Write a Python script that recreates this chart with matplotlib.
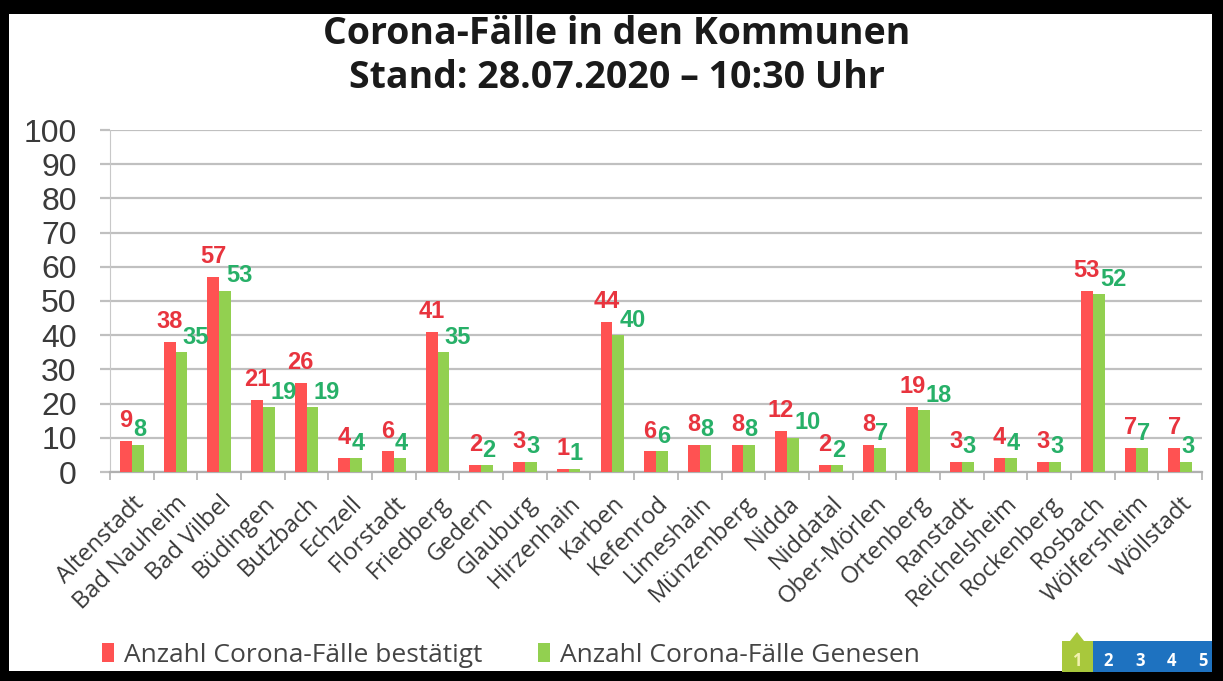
import matplotlib.pyplot as plt
import matplotlib.patches as mpatches
import numpy as np

kommunen = ["Altenstadt", "Bad Nauheim", "Bad Vilbel", "Büdingen", "Butzbach", "Echzell",
            "Florstadt", "Friedberg", "Gedern", "Glauburg", "Hirzenhain", "Karben",
            "Kefenrod", "Limeshain", "Münzenberg", "Nidda", "Niddatal", "Ober-Mörlen",
            "Ortenberg", "Ranstadt", "Reichelsheim", "Rockenberg", "Rosbach",
            "Wölfersheim", "Wöllstadt"]
bestaetigt = [9, 38, 57, 21, 26, 4, 6, 41, 2, 3, 1, 44, 6, 8, 8, 12, 2, 8, 19, 3, 4, 3, 53, 7, 7]
genesen = [8, 35, 53, 19, 19, 4, 4, 35, 2, 3, 1, 40, 6, 8, 8, 10, 2, 7, 18, 3, 4, 3, 52, 7, 3]
pages = ["1", "2", "3", "4", "5"]

W, H = 1223, 681
fig = plt.figure(figsize=(W / 100, H / 100), dpi=100)

# black frame
fig.patches.append(mpatches.Rectangle((0, 0), 1, 1, transform=fig.transFigure,
                                      facecolor="black", edgecolor="none", zorder=-10))
fig.patches.append(mpatches.Rectangle((9 / W, 1 - 671 / H), (1212 - 9) / W, (671 - 14) / H,
                                      transform=fig.transFigure, facecolor="white",
                                      edgecolor="none", zorder=-9))

ax = fig.add_axes([110 / W, 1 - 472 / H, (1202 - 110) / W, (472 - 130) / H])
x = np.arange(len(kommunen))
w = 0.27
red = "#ff5252"
green = "#92d050"
ax.bar(x - w / 2, bestaetigt, w, color=red, label="Anzahl Corona-Fälle bestätigt", zorder=3)
ax.bar(x + w / 2, genesen, w, color=green, label="Anzahl Corona-Fälle Genesen", zorder=3)

ax.set_xlim(-0.5, len(kommunen) - 0.5)
ax.set_ylim(0, 100)
ax.set_yticks(range(0, 101, 10))
ax.yaxis.grid(True, color="#c0c0c0", linewidth=1.6, zorder=0)
ax.tick_params(axis="y", length=7, width=1.6, color="#c0c0c0", labelsize=23,
               labelcolor="#3a3a3a", pad=17)
for lab in ax.get_yticklabels():
    lab.set_family("Liberation Sans")

ax.set_xticks(x)
ax.set_xticklabels(kommunen, rotation=45, ha="right", rotation_mode="anchor",
                   fontsize=17, color="#3a3a3a", family="Open Sans")
ax.tick_params(axis="x", length=0, pad=14)
ax.set_xticks(np.arange(-0.5, len(kommunen)), minor=True)
ax.tick_params(axis="x", which="minor", length=6, color="#b0b0b0", width=1.2)

for s in ["top", "right"]:
    ax.spines[s].set_visible(False)
ax.spines["left"].set_color("#c8c8c8")
ax.spines["bottom"].set_color("#b0b0b0")
ax.spines["bottom"].set_linewidth(1.6)

# value labels: red centred on its bar, green pushed right of the red label if needed
red_labels = []
for i in range(len(kommunen)):
    t = ax.annotate(str(bestaetigt[i]), (x[i] - w / 2, bestaetigt[i]), xytext=(0, 10),
                    textcoords="offset points", ha="center", va="baseline", color="#e8343e",
                    fontsize=17, fontweight="bold", family="Liberation Sans", zorder=4)
    red_labels.append(t)
fig.canvas.draw()
renderer = fig.canvas.get_renderer()
inv = ax.transData.inverted()
px = ax.transData.transform((1, 0))[0] - ax.transData.transform((0, 0))[0]
for i in range(len(kommunen)):
    bb = red_labels[i].get_window_extent(renderer)
    red_right = inv.transform((bb.x1, 0))[0]
    gx = max(x[i] + 1 / px, red_right)
    ax.annotate(str(genesen[i]), (gx, genesen[i]), xytext=(0, 6),
                textcoords="offset points", ha="left", va="baseline", color="#27b068",
                fontsize=17, fontweight="bold", family="Liberation Sans", zorder=4)

fig.text(617 / W, 1 - 34 / H, "Corona-Fälle in den Kommunen", ha="center", va="center",
         fontsize=27, fontweight="bold", family="Open Sans", color="#1a1a1a")
fig.text(617 / W, 1 - 78 / H, "Stand: 28.07.2020 – 10:30 Uhr", ha="center", va="center",
         fontsize=27, fontweight="bold", family="Open Sans", color="#1a1a1a")

fig.legend(loc="center left", bbox_to_anchor=(78 / W, 1 - 655 / H), ncol=2, frameon=False,
           handlelength=0.45, handleheight=0.7, handletextpad=0.4, columnspacing=2.1,
           prop={"family": "Open Sans", "size": 19}, labelcolor="#444444")

# page tabs
fig.patches.append(mpatches.Rectangle((1062 / W, 1 - 672 / H), 31 / W, 31 / H,
                                      transform=fig.transFigure, facecolor="#a8c83c",
                                      edgecolor="none"))
fig.patches.append(mpatches.Polygon([(1070 / W, 1 - 641 / H), (1077 / W, 1 - 632 / H),
                                     (1084 / W, 1 - 641 / H)], closed=True,
                                    transform=fig.transFigure, facecolor="#a8c83c",
                                    edgecolor="none"))
fig.patches.append(mpatches.Rectangle((1093 / W, 1 - 672 / H), 119 / W, 31 / H,
                                      transform=fig.transFigure, facecolor="#1e72c0",
                                      edgecolor="none"))
for k, p in enumerate(pages):
    fig.text((1077 + 31.5 * k) / W, 1 - 661 / H, p, ha="center", va="center", fontsize=12,
             fontweight="bold", family="Open Sans",
             color="#f2f2b0" if k == 0 else "white")

fig.savefig("out.png", dpi=100)
